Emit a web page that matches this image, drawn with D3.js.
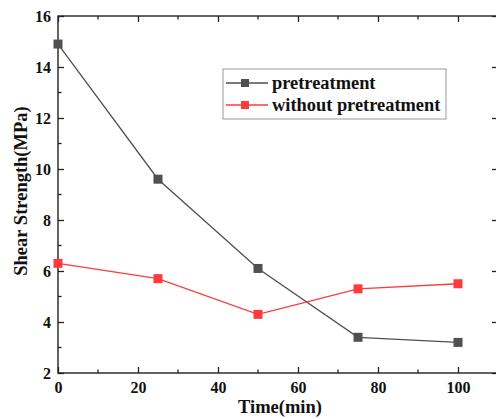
<!DOCTYPE html>
<html>
<head>
<meta charset="utf-8">
<script src="https://d3js.org/d3.v7.min.js"></script>
<style>
  body { margin: 0; background: #fff; }
  text { font-family: "Liberation Serif", "Times New Roman", serif; font-weight: bold; }
</style>
</head>
<body>
<svg id="chart" width="496" height="419"></svg>
<script>
// chart data
var times = [0, 25, 50, 75, 100];
var pretreatment = [14.9, 9.6, 6.1, 3.4, 3.2];
var withoutPretreatment = [6.3, 5.7, 4.3, 5.3, 5.5];
var seriesNames = ["pretreatment", "without pretreatment"];
var xTicks = [0, 20, 40, 60, 80, 100];
var yTicks = [2, 4, 6, 8, 10, 12, 14, 16];

var svg = d3.select("#chart");
var margin = {left: 58, top: 16, right: 498, bottom: 373};

var x = d3.scaleLinear().domain([0, 110]).range([margin.left, margin.right]);
var y = d3.scaleLinear().domain([2, 16]).range([margin.bottom, margin.top]);

var colors = ["#505050", "#ff3a3a"];

// frame
svg.append("rect")
   .attr("x", margin.left).attr("y", margin.top)
   .attr("width", margin.right - margin.left)
   .attr("height", margin.bottom - margin.top)
   .attr("fill", "none").attr("stroke", "#222").attr("stroke-width", 1.4);

// bottom axis with inward ticks
var xMinor = d3.range(10, 110, 20);
var bottomAxis = svg.append("g").attr("transform", "translate(0," + margin.bottom + ")");
bottomAxis.call(d3.axisBottom(x).tickValues(xTicks).tickSizeInner(-6).tickSizeOuter(0).tickPadding(9));
svg.append("g").selectAll("line").data(xMinor).enter().append("line")
   .attr("x1", function(d) { return x(d); }).attr("x2", function(d) { return x(d); })
   .attr("y1", margin.bottom).attr("y2", margin.bottom - 3.5)
   .attr("stroke", "#222").attr("stroke-width", 1.3);

// top axis, ticks only
var topAxis = svg.append("g").attr("transform", "translate(0," + margin.top + ")");
topAxis.call(d3.axisTop(x).tickValues(xTicks).tickSizeInner(-6).tickSizeOuter(0).tickFormat(""));
svg.append("g").selectAll("line").data(xMinor).enter().append("line")
   .attr("x1", function(d) { return x(d); }).attr("x2", function(d) { return x(d); })
   .attr("y1", margin.top).attr("y2", margin.top + 3.5)
   .attr("stroke", "#222").attr("stroke-width", 1.3);

// left axis
var yMinor = d3.range(3, 16, 2);
var leftAxis = svg.append("g").attr("transform", "translate(" + margin.left + ",0)");
leftAxis.call(d3.axisLeft(y).tickValues(yTicks).tickSizeInner(-6).tickSizeOuter(0).tickPadding(7));
svg.append("g").selectAll("line").data(yMinor).enter().append("line")
   .attr("x1", margin.left).attr("x2", margin.left + 3.5)
   .attr("y1", function(d) { return y(d); }).attr("y2", function(d) { return y(d); })
   .attr("stroke", "#222").attr("stroke-width", 1.3);

// right axis, ticks only
var rightAxis = svg.append("g").attr("transform", "translate(" + margin.right + ",0)");
rightAxis.call(d3.axisRight(y).tickValues(yTicks).tickSizeInner(-6).tickSizeOuter(0).tickFormat(""));

svg.selectAll(".domain").remove();
svg.selectAll(".tick line").attr("stroke", "#222").attr("stroke-width", 1.3);
svg.selectAll(".tick text").attr("font-size", 16).attr("fill", "#111")
   .style("font-family", "'Liberation Serif', serif").style("font-weight", "bold");

// axis titles
svg.append("text")
   .attr("x", 280).attr("y", 413)
   .attr("text-anchor", "middle").attr("font-size", 18.5).attr("fill", "#111")
   .text("Time(min)");

svg.append("text")
   .attr("transform", "translate(27,191) rotate(-90)")
   .attr("text-anchor", "middle").attr("font-size", 18.5).attr("fill", "#111")
   .text("Shear Strength(MPa)");

// series
var series = [pretreatment, withoutPretreatment];
var line = d3.line()
             .x(function(d, i) { return x(times[i]); })
             .y(function(d) { return y(d); });

series.forEach(function(vals, k) {
  svg.append("path")
     .datum(vals)
     .attr("d", line)
     .attr("fill", "none")
     .attr("stroke", colors[k])
     .attr("stroke-width", 1.3);

  svg.append("g").selectAll("rect").data(vals).enter().append("rect")
     .attr("x", function(d, i) { return x(times[i]) - 4.5; })
     .attr("y", function(d) { return y(d) - 4.5; })
     .attr("width", 9).attr("height", 9)
     .attr("fill", colors[k]);
});

// legend
var legend = svg.append("g").attr("transform", "translate(223,69)");
legend.append("rect")
      .attr("width", 223).attr("height", 50)
      .attr("fill", "#fff").attr("stroke", "#999").attr("stroke-width", 1);

seriesNames.forEach(function(name, k) {
  var ly = 14 + k * 22;
  legend.append("line")
        .attr("x1", 3).attr("x2", 45).attr("y1", ly).attr("y2", ly)
        .attr("stroke", colors[k]).attr("stroke-width", 1.3);
  legend.append("rect")
        .attr("x", 22 - 4).attr("y", ly - 4).attr("width", 8).attr("height", 8)
        .attr("fill", colors[k]);
  legend.append("text")
        .attr("x", 49).attr("y", ly + 6)
        .attr("font-size", 18.4).attr("fill", "#111")
        .text(name);
});
</script>
</body>
</html>
